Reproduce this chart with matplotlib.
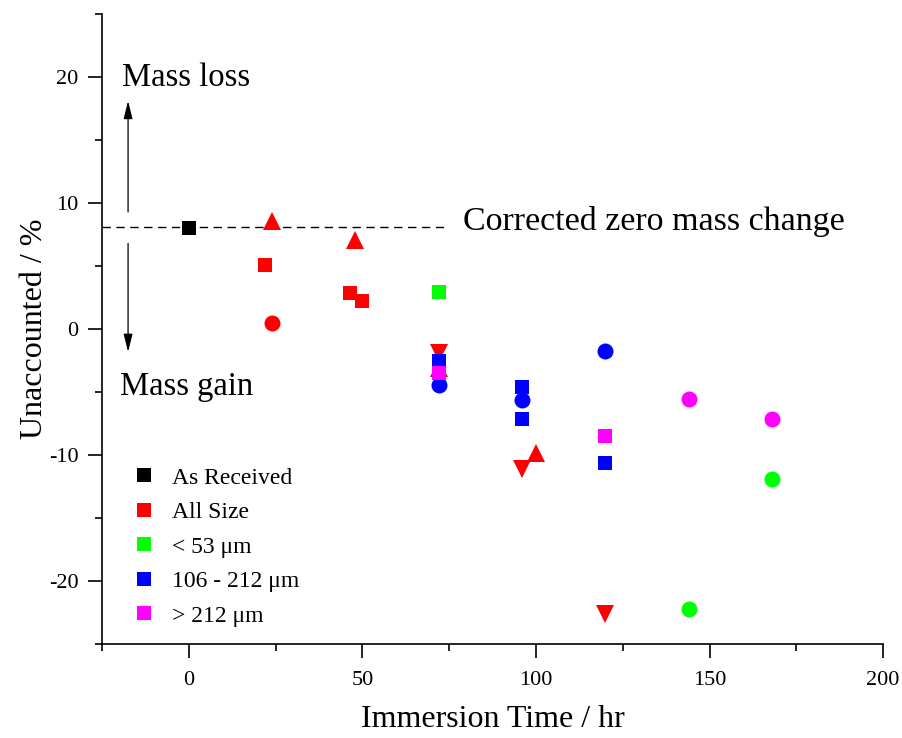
import matplotlib.pyplot as plt
from matplotlib.lines import Line2D

plt.rcParams['font.family'] = ['Liberation Serif', 'DejaVu Serif']
plt.rcParams['axes.unicode_minus'] = False

# Unaccounted mass (%) vs immersion time (hr), grouped by particle size and marker shape
as_received_x = [0]
as_received_y = [8.0]

all_sq_x = [22, 46.5, 50]
all_sq_y = [5.1, 2.9, 2.2]
all_circ_x = [24]
all_circ_y = [0.45]
all_up_x = [24, 48, 72, 100]
all_up_y = [8.6, 7.1, -3.1, -9.8]
all_down_x = [72, 96, 120]
all_down_y = [-1.9, -11.1, -22.6]

fine_sq_x = [72]
fine_sq_y = [2.95]
fine_circ_x = [144, 168]
fine_circ_y = [-22.2, -11.9]

mid_sq_x = [72, 96, 96, 120]
mid_sq_y = [-2.55, -4.6, -7.1, -10.6]
mid_circ_x = [72, 96, 120]
mid_circ_y = [-4.4, -5.65, -1.75]

coarse_sq_x = [72, 120]
coarse_sq_y = [-3.5, -8.5]
coarse_circ_x = [144, 168]
coarse_circ_y = [-5.55, -7.1]

labels = ["As Received", "All Size", "< 53 \u03bcm", "106 - 212 \u03bcm", "> 212 \u03bcm"]
colors = ["black", "#FF0000", "#00FF00", "#0000FF", "#FF00FF"]

zero_line = 8.1

fig = plt.figure(figsize=(9.03, 7.38), dpi=100)
ax = fig.add_axes([0.113, 0.127, 0.865, 0.854])

sq, circ, tri = 10, 11.5, 12.5

ax.plot([-25, 75], [zero_line, zero_line], color="black", lw=1.0, ls=(0, (6, 4)))

def pts(x, y, m, c, s):
    ax.plot(x, y, ls="none", marker=m, color=c, ms=s, mew=0)

pts(as_received_x, as_received_y, "s", colors[0], sq)
pts(all_sq_x, all_sq_y, "s", colors[1], sq)
pts(all_circ_x, all_circ_y, "o", colors[1], circ)
pts(all_up_x, all_up_y, "^", colors[1], tri)
pts(all_down_x, all_down_y, "v", colors[1], tri)
pts(fine_sq_x, fine_sq_y, "s", colors[2], sq)
pts(fine_circ_x, fine_circ_y, "o", colors[2], circ)
pts(mid_sq_x, mid_sq_y, "s", colors[3], sq)
pts(mid_circ_x, mid_circ_y, "o", colors[3], circ)
pts(coarse_sq_x, coarse_sq_y, "s", colors[4], sq)
pts(coarse_circ_x, coarse_circ_y, "o", colors[4], circ)

# direction arrows and notes
arrow = dict(arrowstyle="-|>,head_length=1.2,head_width=0.3", color="black", lw=0.9,
             mutation_scale=9, shrinkA=0, shrinkB=0)
ax.annotate("", xy=(-17.5, 18.1), xytext=(-17.5, 9.3), arrowprops=arrow)
ax.annotate("", xy=(-17.5, -1.8), xytext=(-17.5, 6.8), arrowprops=arrow)
ax.text(-19.3, 19.3, "Mass loss", fontsize=23.5, ha="left", va="baseline")
ax.text(-19.8, -5.25, "Mass gain", fontsize=23.5, ha="left", va="baseline")
ax.text(79, 7.85, "Corrected zero mass change", fontsize=24.5, ha="left", va="baseline")

ax.set_xlim(-25, 200)
ax.set_ylim(-25, 25)
ax.set_xticks([0, 50, 100, 150, 200])
ax.set_xticks([-25, 25, 75, 125, 175], minor=True)
ax.set_yticks([-20, -10, 0, 10, 20])
ax.set_yticks([-25, -15, -5, 5, 15, 25], minor=True)
ax.tick_params(which="major", direction="out", length=10, width=1.2, labelsize=16)
ax.tick_params(axis="x", which="major", pad=9)
ax.tick_params(axis="y", which="major", pad=7)
ax.tick_params(which="minor", direction="out", length=5, width=1.2)
ax.spines["top"].set_visible(False)
ax.spines["right"].set_visible(False)
ax.spines["left"].set_linewidth(1.2)
ax.spines["bottom"].set_linewidth(1.2)

ax.set_xlabel("Immersion Time / hr", fontsize=23, labelpad=11)
ax.set_ylabel("Unaccounted / %", fontsize=23, labelpad=0)

handles = [Line2D([], [], ls="none", marker="s", color=c, ms=10, mew=0) for c in colors]
ax.legend(handles, labels, loc="upper left", bbox_to_anchor=(0.015, 0.315),
          frameon=False, fontsize=17, handlelength=0.8, handletextpad=0.75,
          labelspacing=0.55)

fig.savefig("out.png", dpi=100)
